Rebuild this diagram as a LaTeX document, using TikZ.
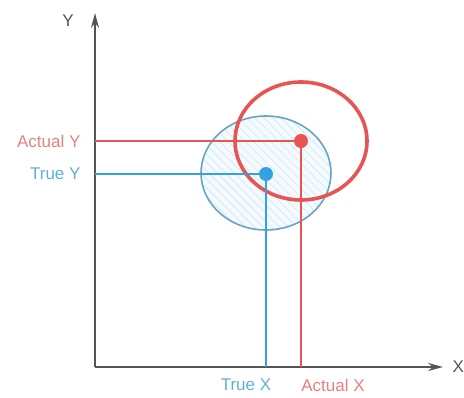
\documentclass[tikz,border=0pt]{standalone}
\usepackage{fontspec}
\setmainfont{Liberation Sans}
\usetikzlibrary{arrows.meta,patterns.meta}
\definecolor{actual}{RGB}{232,84,84}
\definecolor{actuallab}{RGB}{232,128,128}
\definecolor{true}{RGB}{52,162,222}
\definecolor{truelab}{RGB}{96,176,214}
\definecolor{trueedge}{RGB}{104,164,196}
\definecolor{axisgray}{RGB}{85,85,85}
\begin{document}
\begin{tikzpicture}[x=1pt,y=-1pt,line join=round,line cap=butt,
	>={Stealth[length=15pt,width=8pt]},
	axis/.style={axisgray,line width=2pt},
	lab/.style={font=\fontsize{17}{17}\selectfont},
	dot/.style={circle,fill,inner sep=0pt,minimum size=14pt}]
	\useasboundingbox (0,0) rectangle (464,397);
	% spread of the readings
	\fill[true!5] (266,173) ellipse [x radius=65,y radius=57];
	\fill[pattern={Lines[angle=-45,distance=6pt,line width=0.8pt]},pattern color=true!22] (266,173) ellipse [x radius=65,y radius=57];
	\draw[trueedge,line width=1.6pt] (266,173) ellipse [x radius=65,y radius=57];
	\draw[actual,line width=3.6pt] (301,141) ellipse [x radius=66,y radius=59];
	% axes
	\coordinate (O) at (95,367);
	\coordinate (ytip) at (95,13);
	\coordinate (xtip) at (443,367);
	\draw[axis,->] (O) -- (ytip);
	\draw[axis,->] (O) -- (xtip);
	\node[lab,axisgray] (ylab) at (68,21) {Y};
	\node[lab,axisgray,anchor=west] (xlab) at (449,367) {X};
	% points
	\node[dot,actual] (act) at (301,141) {};
	\node[dot,true] (tru) at (266,174) {};
	\coordinate (actY) at (95,141);
	\coordinate (truY) at (95,174);
	\coordinate (actX) at (301,367);
	\coordinate (truX) at (266,367);
	\draw[actual,line width=2pt] (actY) -- (act.center) -- (actX);
	\draw[true,line width=2pt] (truY) -- (tru.center) -- (truX);
	% labels
	\node[lab,actuallab,anchor=east] (actYlab) at (84,141) {Actual Y};
	\node[lab,truelab,anchor=east] (truYlab) at (84,174) {True Y};
	\node[lab,truelab] (truXlab) at (246,385) {True X};
	\node[lab,actuallab] (actXlab) at (333,385) {Actual X};
\end{tikzpicture}
\end{document}
